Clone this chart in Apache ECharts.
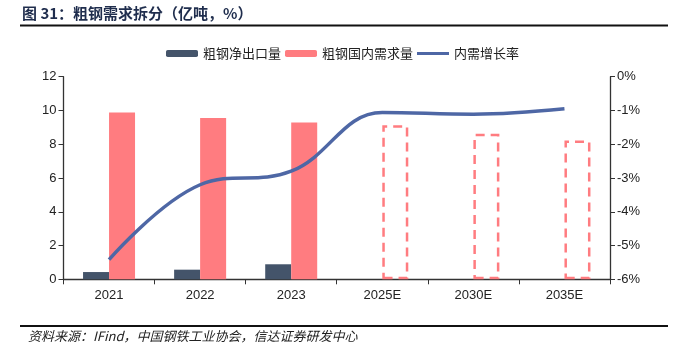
<!DOCTYPE html>
<html>
<head>
<meta charset="utf-8">
<script src="https://cdn.jsdelivr.net/npm/echarts@6/dist/echarts.min.js"></script>
<style>
html,body{margin:0;padding:0;background:#fff;}
#main{width:685px;height:355px;}
</style>
</head>
<body>
<div id="main"></div>
<script>
const categories = ['2021', '2022', '2023', '2025E', '2030E', '2035E'];
const netExport = [0.43, 0.57, 0.89, null, null, null];
const domesticDemand = [9.88, 9.56, 9.29, 9.13, 8.62, 8.22];
const demandGrowth = [-5.42, -3.2, -2.8, -1.06, -1.11, -0.95];
const forecastFlags = [false, false, false, true, true, true];
const leftTicks = { min: 0, max: 12, interval: 2 };
const rightTicks = { min: -6, max: 0, interval: 1 };

const FONT = '"Liberation Sans", "Noto Sans CJK SC", sans-serif';
const RED = '#FF7C80';
const NAVY = '#44546A';
const BLUE = '#4E67A5';

const domesticData = domesticDemand.map((v, i) => forecastFlags[i]
  ? { value: v, itemStyle: { color: 'rgba(255,255,255,0)', borderColor: RED, borderWidth: 2.5, borderType: [9, 6] } }
  : v);

const chart = echarts.init(document.getElementById('main'), null, { renderer: 'canvas' });
chart.setOption({
  animation: false,
  backgroundColor: '#fff',
  textStyle: { fontFamily: FONT },
  graphic: [
    { type: 'text', left: 22, top: 6, style: { text: '图 31：粗钢需求拆分（亿吨，%）', fill: '#1F2D4D', font: 'bold 15px "Noto Sans CJK SC", sans-serif' } },
    { type: 'line', shape: { x1: 20, y1: 25.5, x2: 668, y2: 25.5 }, style: { stroke: '#111', lineWidth: 2 } },
    { type: 'line', shape: { x1: 20, y1: 326, x2: 668, y2: 326 }, style: { stroke: '#111', lineWidth: 2 } },
    { type: 'text', left: 28, top: 330, style: { text: '资料来源：IFind，中国钢铁工业协会，信达证券研发中心', fill: '#222', font: 'italic 13px "Noto Sans CJK SC", sans-serif' } }
  ],
  legend: {
    top: 42,
    left: 'center',
    itemWidth: 32,
    itemHeight: 7,
    itemGap: 4,
    textStyle: { fontSize: 13, color: '#222', fontFamily: '"Noto Sans CJK SC", sans-serif' },
    data: ['粗钢净出口量', '粗钢国内需求量', { name: '内需增长率', icon: 'path://M0,0 L40,0 L40,4 L0,4 Z' }]
  },
  grid: { left: 63.5, right: 75, top: 76.7, bottom: 75.7, containLabel: false },
  xAxis: {
    type: 'category',
    data: categories,
    boundaryGap: true,
    axisLine: { lineStyle: { color: '#333', width: 1.3 } },
    axisTick: { show: true, alignWithLabel: false, length: 5, lineStyle: { color: '#333' } },
    axisLabel: { color: '#222', fontSize: 13, margin: 10 }
  },
  yAxis: [
    {
      type: 'value', min: leftTicks.min, max: leftTicks.max, interval: leftTicks.interval,
      axisLine: { show: true, lineStyle: { color: '#333', width: 1.3 } },
      axisTick: { show: true, length: 5, lineStyle: { color: '#333' } },
      splitLine: { show: false },
      axisLabel: { color: '#222', fontSize: 13, margin: 7 }
    },
    {
      type: 'value', min: rightTicks.min, max: rightTicks.max, interval: rightTicks.interval,
      position: 'right',
      axisLine: { show: true, lineStyle: { color: '#333', width: 1.3 } },
      axisTick: { show: true, length: 5, lineStyle: { color: '#333' } },
      splitLine: { show: false },
      axisLabel: { color: '#222', fontSize: 13, margin: 7, formatter: '{value}%' }
    }
  ],
  series: [
    { name: '粗钢净出口量', type: 'bar', data: netExport, barWidth: 26, barGap: '0%', itemStyle: { color: NAVY } },
    { name: '粗钢国内需求量', type: 'bar', data: domesticData, barWidth: 26, barGap: '0%', itemStyle: { color: RED } },
    { name: '内需增长率', type: 'line', yAxisIndex: 1, data: demandGrowth, smooth: 0.4, symbol: 'none', lineStyle: { color: BLUE, width: 3.5 }, itemStyle: { color: BLUE } }
  ]
});
</script>
</body>
</html>
